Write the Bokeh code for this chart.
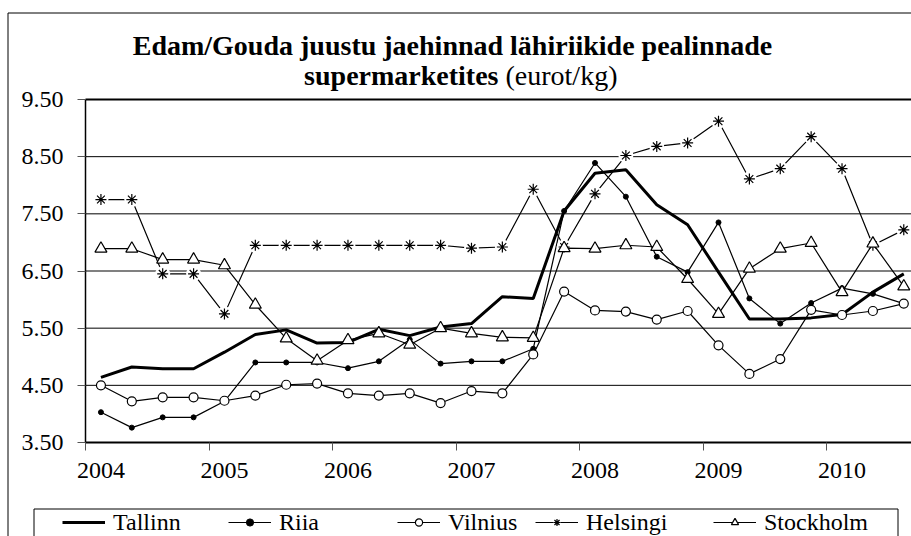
from bokeh.plotting import figure
from bokeh.models import (Range1d, LinearAxis, FixedTicker, Label, Legend, LegendItem,
                          PrintfTickFormatter)
from bokeh.embed import file_html
from bokeh.resources import INLINE

# ---------------- data (quarterly, 2004 Q1 .. 2010 Q3) ----------------
start_year = 2004
n_quarters = 27
year_ticks = [2004, 2005, 2006, 2007, 2008, 2009, 2010]

tallinn = [4.64, 4.82, 4.79, 4.79, 5.08, 5.39, 5.47, 5.24, 5.25, 5.48, 5.37, 5.52, 5.58, 6.05,
           6.02, 7.55, 8.21, 8.27, 7.66, 7.31, 6.48, 5.66, 5.66, 5.68, 5.74, 6.13, 6.45]
riia = [4.03, 3.76, 3.94, 3.94, 4.22, 4.90, 4.90, 4.90, 4.80, 4.92, 5.30, 4.88, 4.92, 4.92,
        5.14, 7.55, 8.39, 7.80, 6.75, 6.48, 7.35, 6.02, 5.58, 5.94, 6.20, 6.10, 5.93]
vilnius = [4.50, 4.22, 4.29, 4.29, 4.23, 4.32, 4.51, 4.53, 4.36, 4.32, 4.36, 4.19, 4.40, 4.36,
           5.04, 6.14, 5.81, 5.79, 5.65, 5.80, 5.20, 4.70, 4.96, 5.82, 5.73, 5.80, 5.93]
helsingi = [7.75, 7.75, 6.45, 6.45, 5.75, 6.95, 6.95, 6.95, 6.95, 6.95, 6.95, 6.95, 6.90, 6.92,
            7.93, 6.92, 7.85, 8.52, 8.68, 8.74, 9.12, 8.11, 8.29, 8.85, 8.29, 6.95, 7.22]
stockholm = [6.89, 6.89, 6.70, 6.70, 6.60, 5.91, 5.32, 4.93, 5.29, 5.41, 5.21, 5.50, 5.41, 5.34,
             5.33, 6.90, 6.89, 6.95, 6.92, 6.36, 5.75, 6.54, 6.89, 6.99, 6.13, 6.98, 6.23]
y_ticks = [3.5, 4.5, 5.5, 6.5, 7.5, 8.5, 9.5]
y_min, y_max = 3.5, 9.5

title_line1 = "Edam/Gouda juustu jaehinnad lähiriikide pealinnade"
title_bold2 = "supermarketites"
title_unit = "(eurot/kg)"
series_names = ["Tallinn", "Riia", "Vilnius", "Helsingi", "Stockholm"]

x = [start_year + q / 4 for q in range(n_quarters)]

# ---------------- layout geometry (page pixels) ----------------
W, H = 911, 536
AX_L, AX_T, AX_B = 85, 99, 442            # plot area left / top / bottom
x_lo = start_year - 0.125                  # left edge of first category
x_hi = start_year + 26.25 / 4              # right edge (chart is cropped here)
ppy = (W - AX_L) / (x_hi - x_lo)           # pixels per year
ppu = (AX_B - AX_T) / (y_max - y_min)      # pixels per euro
xr = Range1d(x_lo - AX_L / ppy, x_hi)
yr = Range1d(y_min - (H - AX_B) / ppu, y_max + AX_T / ppu)


def dx(px):
    return xr.start + px / ppy


def dy(py):
    return yr.end - py / ppu


FONT = "Liberation Serif"
FS = "24px"
TFS = "28px"
LW = 1.2

p = figure(width=W, height=H, output_backend="svg", toolbar_location=None,
           x_range=xr, y_range=yr, x_axis_location=None, y_axis_location=None,
           min_border_left=0, min_border_right=0, min_border_top=0, min_border_bottom=0)
p.outline_line_color = None
p.background_fill_color = "white"
p.border_fill_color = "white"
p.grid.visible = False

# gridlines inside the plot area
grid_y = [v for v in y_ticks if v not in (y_min, y_max, 6.5)]
p.segment(x0=[x_lo] * len(grid_y), y0=grid_y, x1=[x_hi] * len(grid_y), y1=grid_y,
          line_color="black", line_width=1)
p.segment(x0=[x_lo], y0=[6.5], x1=[x_hi], y1=[6.5], line_color="#808080", line_width=2)
p.segment(x0=[x_lo], y0=[y_max], x1=[x_hi], y1=[y_max], line_color="black", line_width=2)

# axes fixed at the plot-area edges
yax = LinearAxis(fixed_location=x_lo, bounds=(y_min, y_max),
                 ticker=FixedTicker(ticks=y_ticks), formatter=PrintfTickFormatter(format="%.2f"),
                 major_tick_in=0, major_tick_out=8, minor_tick_in=0, minor_tick_out=0,
                 major_tick_line_color="#555555", axis_line_width=1.5,
                 major_label_text_font=FONT, major_label_text_font_size=FS,
                 major_label_text_color="black", major_label_standoff=14)
p.add_layout(yax, "left")
xax = LinearAxis(fixed_location=y_min, bounds=(x_lo, x_hi),
                 ticker=FixedTicker(ticks=year_ticks,
                                    minor_ticks=[yv - 0.125 for yv in year_ticks]),
                 major_tick_in=0, major_tick_out=0, minor_tick_in=0, minor_tick_out=8,
                 minor_tick_line_color="#555555", axis_line_width=2,
                 major_label_text_font=FONT, major_label_text_font_size=FS,
                 major_label_text_color="black", major_label_standoff=12)
p.add_layout(xax, "below")

# series
r_t = p.line(x, tallinn, line_color="black", line_width=3)
r_rl = p.line(x, riia, line_color="black", line_width=LW)
r_rm = p.scatter(x, riia, marker="circle", size=5, fill_color="black", line_color="black")
r_vl = p.line(x, vilnius, line_color="black", line_width=LW)
r_vm = p.scatter(x, vilnius, marker="circle", size=9, fill_color="white", line_color="black",
                 line_width=LW)
r_hl = p.line(x, helsingi, line_color="black", line_width=LW)
r_hh = p.scatter(x, helsingi, marker="circle", size=15, fill_color="white", line_color=None)
r_hm = p.scatter(x, helsingi, marker="asterisk", size=11, line_color="black", line_width=LW)
r_sl = p.line(x, stockholm, line_color="black", line_width=LW)
r_sm = p.scatter(x, stockholm, marker="triangle", size=12, fill_color="white",
                 line_color="black", line_width=LW)

# outer chart border (left and top; the rest is cropped) and legend box
p.line([dx(7.5), dx(7.5), dx(W + 5)], [dy(H + 5), dy(12.5), dy(12.5)],
       line_color="black", line_width=1)
p.line([dx(33.5), dx(33.5), dx(897.5), dx(897.5)], [dy(H + 5), dy(508.5), dy(508.5), dy(H + 5)],
       line_color="black", line_width=1)

# title
p.add_layout(Label(x=452, y=H - 45, x_units="screen", y_units="screen", text=title_line1,
                   text_font=FONT, text_font_style="bold", text_font_size=TFS,
                   text_align="center", text_baseline="middle", text_color="black"))
p.add_layout(Label(x=498, y=H - 75, x_units="screen", y_units="screen", text=title_bold2,
                   text_font=FONT, text_font_style="bold", text_font_size=TFS,
                   text_align="right", text_baseline="middle", text_color="black"))
p.add_layout(Label(x=505, y=H - 75, x_units="screen", y_units="screen", text=title_unit,
                   text_font=FONT, text_font_style="normal", text_font_size=TFS,
                   text_align="left", text_baseline="middle", text_color="black"))

# legend: one item per series, each placed on its own
entries = [[r_t], [r_rl, r_rm], [r_vl, r_vm], [r_hl, r_hh, r_hm], [r_sl, r_sm]]
glyph_x = [62, 228, 397, 535, 713]
for name, rends, gx in zip(series_names, entries, glyph_x):
    leg = Legend(items=[LegendItem(label=name, renderers=rends)],
                 location=(gx, 0), orientation="horizontal",
                 border_line_color=None, background_fill_color=None,
                 padding=0, margin=0, spacing=0, glyph_width=43, glyph_height=18,
                 label_height=28, label_standoff=8,
                 label_text_font=FONT, label_text_font_size=FS, label_text_color="black")
    p.add_layout(leg, "center")

open("out.html", "w").write(file_html(p, INLINE))
